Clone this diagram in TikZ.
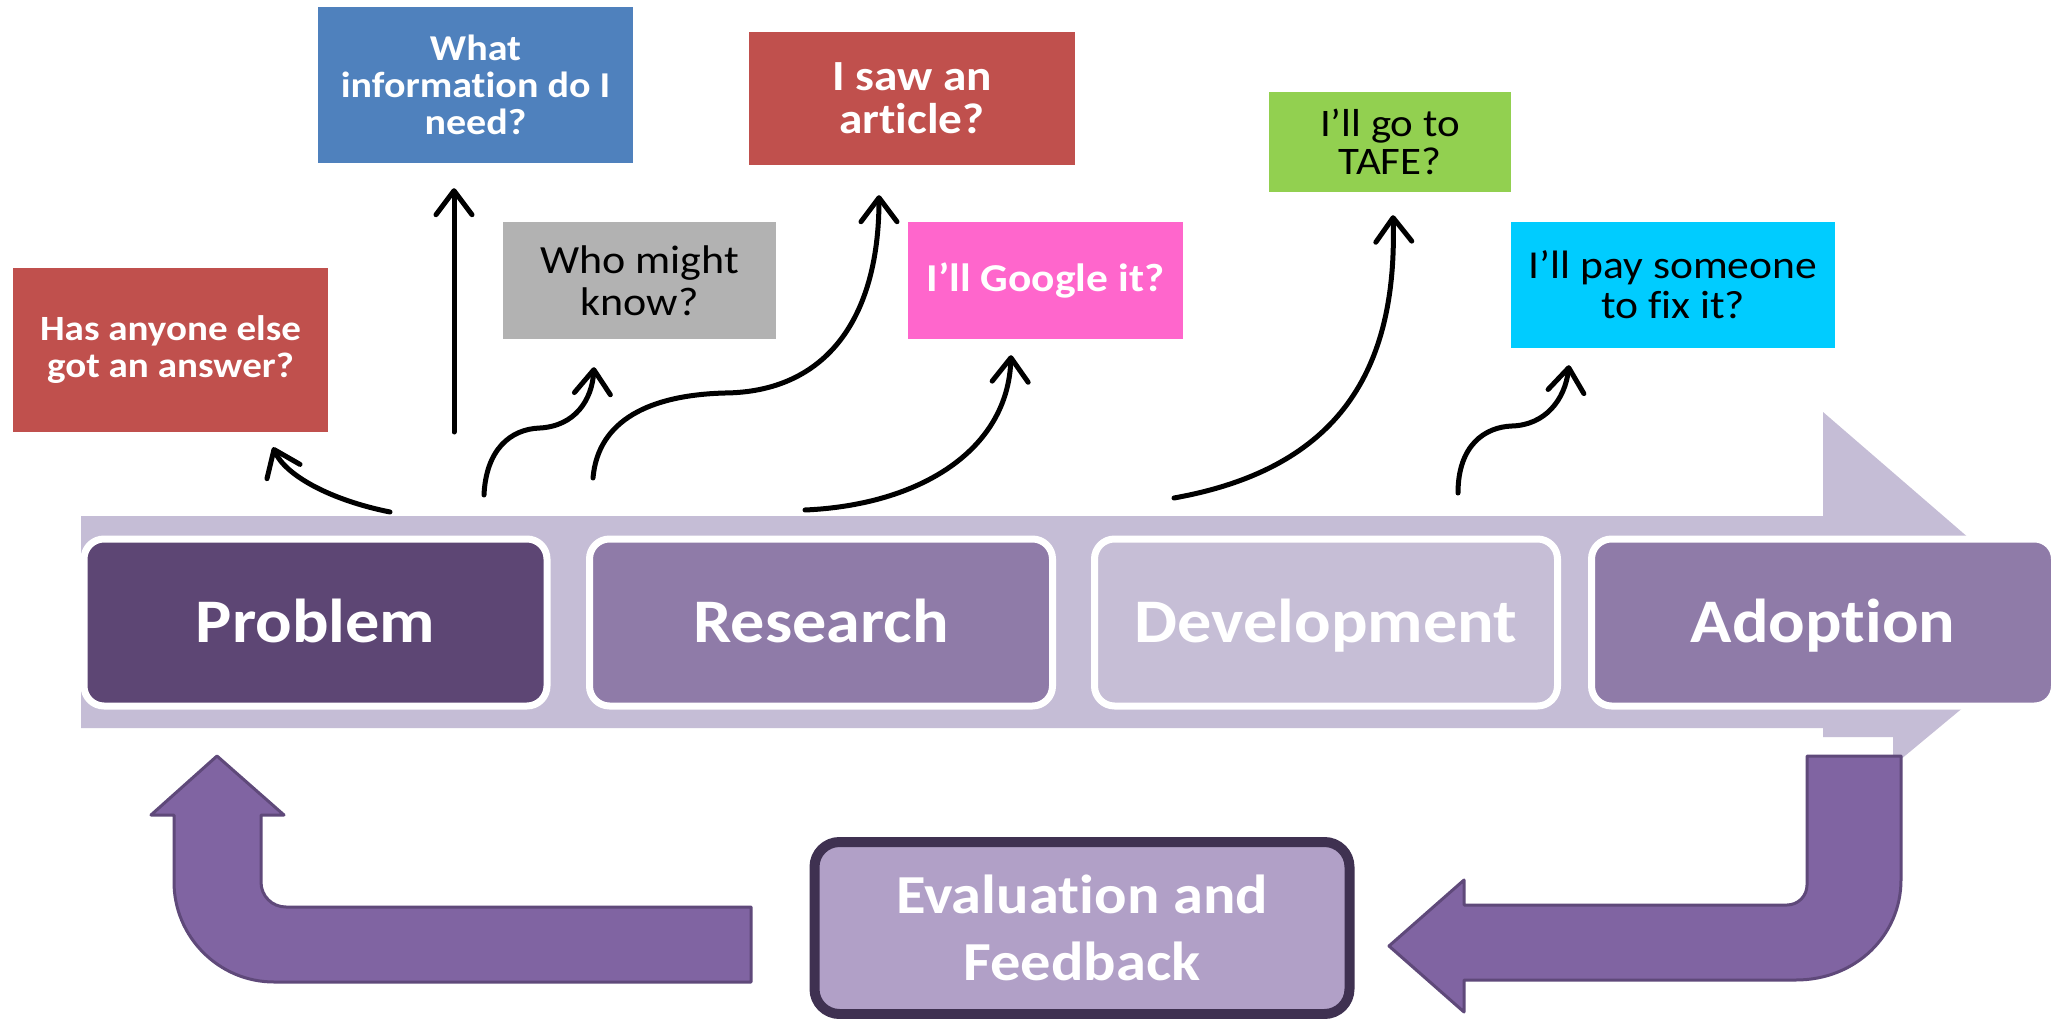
\documentclass[tikz,border=0pt]{standalone}
\usepackage{fontspec}
\setmainfont{Carlito}[FakeStretch=1.1,Ligatures=NoCommon]
\usetikzlibrary{arrows.meta}
\definecolor{barLav}{HTML}{C5BDD6}
\definecolor{probFill}{HTML}{5D4674}
\definecolor{midFill}{HTML}{8F7BA8}
\definecolor{devFill}{HTML}{C6BED6}
\definecolor{uaFill}{HTML}{8064A2}
\definecolor{uaLine}{HTML}{5F497A}
\definecolor{evFill}{HTML}{B1A0C7}
\definecolor{evLine}{HTML}{3F3151}
\definecolor{qRed}{HTML}{C0504D}
\definecolor{qBlue}{HTML}{4F81BD}
\definecolor{qGray}{HTML}{B2B2B2}
\definecolor{qPink}{HTML}{FF66CC}
\definecolor{qGreen}{HTML}{92D050}
\definecolor{qCyan}{HTML}{00CCFF}
\begin{document}
\begin{tikzpicture}[x=1pt,y=-1pt,
  qbox/.style={rectangle, inner sep=0pt, align=center},
  wbold/.style={text=white, font=\bfseries},
  stage/.style={rectangle, rounded corners=20pt, draw=white, line width=7pt,
    minimum width=463pt, minimum height=167pt, inner sep=0pt, text=white,
    text height=46pt, text depth=7pt,
    font=\fontsize{62}{70}\selectfont\bfseries},
  conn/.style={line width=5pt, line cap=round, line join=round,
    -{Straight Barb[length=24pt,width=36pt,line cap=round,line join=round]}},
  uarrow/.style={fill=uaFill, draw=uaLine, line width=3pt, line join=round}]
\useasboundingbox (0,0) rectangle (2054,1019);
\clip (0,0) rectangle (2054,1019);
\fill[white] (0,0) rectangle (2054,1019);

% big background arrow
\fill[barLav] (81,516) -- (1823,516) -- (1823,412) -- (2066,622) -- (1900,760)
  -- (1893,760) -- (1893,737) -- (1823,737) -- (1823,728) -- (81,728) -- cycle;

% stage boxes
\node[stage, fill=probFill] (prob) at (315.5,622.5) {Problem};
\node[stage, fill=midFill] (res) at (821,622.5) {Research};
\node[stage, fill=devFill] (dev) at (1326,622.5) {Development};
\node[stage, fill=midFill] (adop) at (1823,622.5) {Adoption};

% U-turn arrows
\path[uarrow] (1807,756) -- (1901,756) -- (1901,880)
  .. controls (1901,935) and (1856,980) .. (1796,980) -- (1464,980)
  -- (1464,1012) -- (1389,946) -- (1464,880) -- (1464,905) -- (1787,905)
  .. controls (1798,905) and (1807,896) .. (1807,885) -- cycle;
\path[uarrow] (217,756) -- (284,815) -- (261,815) -- (261,882)
  .. controls (261,896) and (272,907) .. (286,907) -- (751,907) -- (751,982)
  -- (274,982) .. controls (219,982) and (174,937) .. (174,882)
  -- (174,815) -- (151,815) -- cycle;

% evaluation box
\node[rectangle, rounded corners=25pt, draw=evLine, line width=10pt, fill=evFill,
  minimum width=535pt, minimum height=172pt, inner sep=0pt, align=center,
  text=white, font=\fontsize{55}{67}\selectfont\bfseries] (eval) at (1082,928)
  {Evaluation and\\Feedback};

% question boxes
\node[qbox, fill=qRed, minimum width=315pt, minimum height=164pt, wbold,
  font=\fontsize{35.5}{37}\selectfont\bfseries] (has) at (170.5,350)
  {Has anyone else\\got an answer?};
\node[qbox, fill=qBlue, minimum width=315pt, minimum height=156pt, wbold,
  font=\fontsize{36.4}{37}\selectfont\bfseries] (info) at (475.5,85)
  {What\\information do I\\need?};
\node[qbox, fill=qGray, minimum width=273pt, minimum height=117pt,
  font=\fontsize{40}{42}\selectfont] (who) at (639.5,280.5)
  {Who might\\know?};
\node[qbox, fill=qRed, minimum width=326pt, minimum height=133pt, wbold,
  font=\fontsize{43}{43}\selectfont\bfseries] (saw) at (912,98.5)
  {I saw an\\article?};
\node[qbox, fill=qPink, minimum width=275pt, minimum height=117pt, wbold,
  font=\fontsize{39.5}{42}\selectfont\bfseries] (google) at (1045.5,280.5)
  {I’ll Google it?};
\node[qbox, fill=qGreen, minimum width=242pt, minimum height=100pt,
  font=\fontsize{39}{38}\selectfont] (tafe) at (1390,142)
  {I’ll go to\\TAFE?};
\node[qbox, fill=qCyan, minimum width=324pt, minimum height=126pt,
  font=\fontsize{39.6}{40}\selectfont] (pay) at (1673,285)
  {I’ll pay someone\\to fix it?};

% connector start points on the bar
\coordinate (s1) at (390,512);
\coordinate (s2) at (454,432);
\coordinate (s3) at (484,495);
\coordinate (s4) at (593,478);
\coordinate (s5) at (805,510);
\coordinate (s6) at (1174,498);
\coordinate (s7) at (1458,493);

% connectors
\draw[conn] (s1) .. controls (330,500) and (285,475) .. ([xshift=102.5pt,yshift=-15pt]has.south);
\draw[conn] (s2) -- ([xshift=-21.5pt,yshift=-25pt]info.south);
\draw[conn] (s3) .. controls (486,450) and (510,429) .. (540,428)
  .. controls (575,426) and (592,400) .. ([xshift=-45.5pt,yshift=-28pt]who.south);
\draw[conn] (s4) .. controls (598,420) and (650,395) .. (725,393)
  .. controls (825,392) and (879,320) .. ([xshift=-33pt,yshift=-30pt]saw.south);
\draw[conn] (s5) .. controls (920,505) and (1008,450) .. ([xshift=-34.5pt,yshift=-16pt]google.south);
\draw[conn] (s6) .. controls (1330,470) and (1398,380) .. ([xshift=3pt,yshift=-23pt]tafe.south);
\draw[conn] (s7) .. controls (1458,445) and (1485,427) .. (1512,426)
  .. controls (1545,425) and (1565,400) .. ([xshift=-104pt,yshift=-17pt]pay.south);
\end{tikzpicture}
\end{document}
